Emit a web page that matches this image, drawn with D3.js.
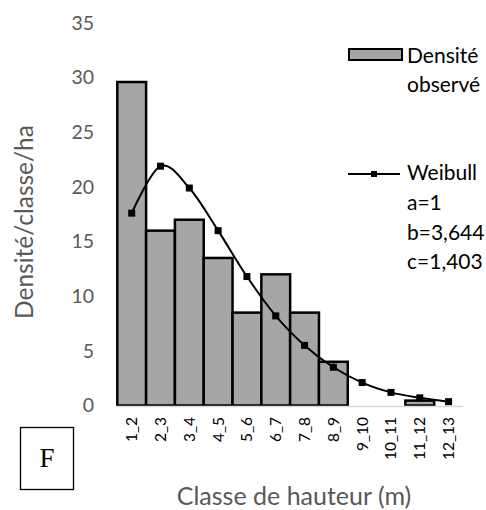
<!DOCTYPE html>
<html><head><meta charset="utf-8">
<script src="https://cdn.jsdelivr.net/npm/d3@7"></script>
<style>body{margin:0;background:#fff}svg{display:block}</style>
</head><body>
<script>
const categories = ["1_2","2_3","3_4","4_5","5_6","6_7","7_8","8_9","9_10","10_11","11_12","12_13"];
const observed = [29.6, 16, 17, 13.5, 8.5, 12, 8.5, 4, 0, 0, 0.45, 0];
const weibull = [17.6, 21.9, 19.9, 16, 11.8, 8.2, 5.5, 3.5, 2.1, 1.2, 0.7, 0.35];
const yTicks = [0,5,10,15,20,25,30,35];
const legendLines = ["Weibull","a=1","b=3,644","c=1,403"];

const W=486,H=510;
const font="Lato, 'Open Sans', sans-serif";
const svg=d3.select("body").append("svg").attr("width",W).attr("height",H);
const x=d3.scaleBand().domain(categories).range([117.3,463]).padding(0);
const y=d3.scaleLinear().domain([0,35]).range([405.5,23]);

// y tick labels
svg.append("g").selectAll("text").data(yTicks).join("text")
  .attr("x",94).attr("y",d=>y(d)).attr("dy","0.35em").attr("text-anchor","end")
  .attr("font-family",font).attr("font-size",19.5).attr("fill","#595959").text(d=>d);

// bars
svg.append("g").selectAll("rect").data(observed.map((v,i)=>({c:categories[i],v})).filter(d=>d.v>0)).join("rect")
  .attr("x",d=>x(d.c)).attr("width",x.bandwidth()).attr("y",d=>y(d.v)).attr("height",d=>y(0)-y(d.v))
  .attr("fill","#a6a6a6").attr("stroke","#000").attr("stroke-width",2.5);

// x axis line
svg.append("line").attr("x1",116).attr("x2",463).attr("y1",406.5).attr("y2",406.5)
  .attr("stroke","#d9d9d9").attr("stroke-width",1.5);

// weibull curve
const pts=weibull.map((v,i)=>[x(categories[i])+x.bandwidth()/2,y(v)]);
svg.append("path").attr("d",d3.line().curve(d3.curveCatmullRom.alpha(0))(pts))
  .attr("fill","none").attr("stroke","#000").attr("stroke-width",2);
svg.append("g").selectAll("rect").data(pts).join("rect")
  .attr("x",d=>d[0]-3.5).attr("y",d=>d[1]-3.5).attr("width",7).attr("height",7).attr("fill","#000");

// x tick labels
svg.append("g").selectAll("text").data(categories).join("text")
  .attr("transform",d=>`translate(${x(d)+x.bandwidth()/2},417) rotate(-90)`)
  .attr("dy","0.35em").attr("text-anchor","end")
  .attr("font-family",font).attr("font-size",15.5).attr("fill","#000").text(d=>d);

// axis titles
svg.append("text").attr("transform","translate(24,222) rotate(-90)").attr("dy","0.35em")
  .attr("text-anchor","middle").attr("font-family",font).attr("font-size",24.5).attr("fill","#595959")
  .text("Densité/classe/ha");
svg.append("text").attr("x",294).attr("y",496).attr("dy","0.35em")
  .attr("text-anchor","middle").attr("font-family",font).attr("font-size",25).attr("fill","#595959")
  .text("Classe de hauteur (m)");

// legend
svg.append("rect").attr("x",349).attr("y",49).attr("width",53).attr("height",11)
  .attr("fill","#a6a6a6").attr("stroke","#000").attr("stroke-width",2);
svg.append("text").attr("x",407).attr("y",55.5).attr("dy","0.35em").attr("font-family",font)
  .attr("font-size",21).attr("fill","#000").text("Densité");
svg.append("text").attr("x",407).attr("y",85).attr("dy","0.35em").attr("font-family",font)
  .attr("font-size",21).attr("fill","#000").text("observé");
svg.append("line").attr("x1",348).attr("x2",400).attr("y1",174).attr("y2",174).attr("stroke","#000").attr("stroke-width",2);
svg.append("rect").attr("x",371).attr("y",171).attr("width",6).attr("height",6).attr("fill","#000");
svg.append("g").selectAll("text").data(legendLines).join("text")
  .attr("x",407).attr("y",(d,i)=>173+i*29.7).attr("dy","0.35em").attr("font-family",font)
  .attr("font-size",21).attr("fill","#000").text(d=>d);

// F box
svg.append("rect").attr("x",20.5).attr("y",427.5).attr("width",53).attr("height",62)
  .attr("fill","none").attr("stroke","#000").attr("stroke-width",1.3);
svg.append("text").attr("x",47).attr("y",458).attr("dy","0.35em").attr("text-anchor","middle")
  .attr("font-family","'Liberation Serif', 'DejaVu Serif', serif").attr("font-size",27).attr("fill","#000").text("F");
</script>
</body></html>
